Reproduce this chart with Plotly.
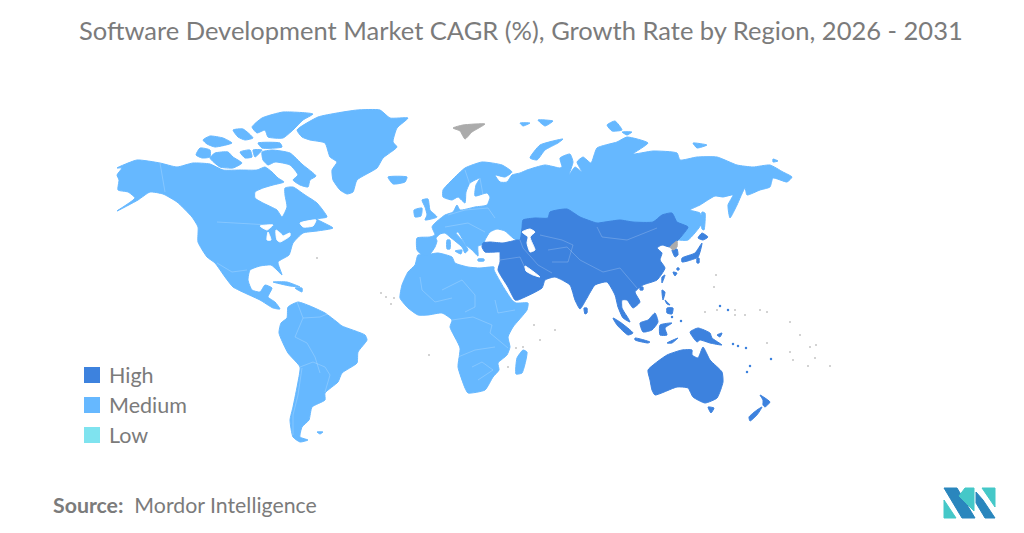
import plotly.graph_objects as go

# no topojson without network, so outlines are traced off the picture (image pixels)
title = "Software Development Market CAGR (%), Growth Rate by Region, 2026 - 2031"
levels = ["High", "Medium", "Low"]
level_colors = ["#3d82de", "#66b8ff", "#7fe3ef"]
no_data_color = "#ababab"

north_america = [(117,168),(137,160),(160,163),(177,167),(193,163),(210,164),(223,170),(240,170),(257,170),(265,167),(272,172),(278,178),
    (284,182),(273,185),(263,188),(255,192),(255,198),(263,203),(277,210),(282,217),(287,207),(285,195),(285,188),(293,187),(305,195),(317,203),(327,217),
    (317,219),(333,228),(317,231),(303,233),(293,243),(289,255),(278,262),(282,275),(277,270),(271,265),(260,266),(250,270),
    (248,280),(252,290),(260,292),(265,285),(272,288),(268,297),(275,302),(280,309),(273,308),(260,300),(247,294),(233,287),
    (225,277),(215,263),(207,257),(198,242),(198,227),(192,217),(177,202),(163,194),(150,192),(138,200),(117,211),(135,198),
    (128,192),(118,190),(119,180),(117,175),(122,168)]
greenland = [(297,130),(318,117),(337,113),(357,110),(380,110),(390,118),(408,118),(397,128),(393,142),(397,147),(383,158),
    (377,168),(357,180),(353,192),(347,194),(340,190),(333,180),(332,170),(337,162),(330,157),(325,143),(310,140),(302,137)]
arctic_islands = [
    [(196,155),(200,148),(210,150),(210,157),(202,158)],
    [(210,158),(215,153),(228,152),(233,157),(242,163),(233,168),(220,167)],
    [(262,152),(272,150),(290,153),(303,165),(316,176),(310,180),(308,187),(300,185),(293,180),(298,175),(290,165),(275,162),(268,165),(263,160)],
    [(252,127),(262,118),(283,112),(313,114),(303,120),(293,130),(283,138),(268,137),(265,130),(257,133)],
    [(203,140),(210,136),(223,138),(232,143),(215,147),(207,144)],
    [(233,130),(243,129),(253,138),(245,140),(238,137)],
    [(258,143),(280,143),(282,147),(262,148)],
    [(240,152),(250,150),(252,157),(245,158)],
    [(253,150),(262,150),(255,157)],
]
small_medium = [
    [(388,177),(407,177),(405,182),(393,184)],
    [(273,282),(287,282),(300,287),(290,286)],
    [(295,288),(302,288),(302,292)],
    [(317,432),(323,432),(320,434)],
    [(422,200),(428,199),(430,210),(437,217),(425,220),(427,215),(425,207)],
    [(414,210),(422,208),(421,216),(415,217)],
    [(447,240),(450,240),(450,249),(447,249)],
    [(455,251),(462,250),(461,254)],
    [(478,259),(484,259),(484,261),(478,261)],
    [(530,158),(540,145),(563,139),(558,143),(545,150),(537,160)],
    [(607,125),(615,121),(622,130),(612,131)],
    [(622,132),(632,132),(627,135)],
    [(693,143),(707,145),(697,148)],
    [(773,159),(778,161),(773,162)],
    [(520,123),(530,123),(523,126)],
    [(538,120),(553,121),(545,126)],
    [(702,212),(705,213),(704,230),(702,229)],
    [(523,350),(527,352),(522,373),(516,374),(517,358)],
]
south_america = [(288,307),(298,302),(310,306),(325,313),(337,322),(342,326),(365,335),(367,340),(358,352),(357,363),(342,373),
    (338,382),(325,393),(325,400),(312,407),(309,420),(302,427),(300,437),(308,440),(300,442),(293,437),(290,420),(293,407),
    (298,382),(300,367),(288,353),(279,333),(281,323),(287,318)]
eurasia_medium = [(417,250),(417,238),(430,237),(435,235),(432,227),(435,223),(445,215),(453,212),(457,205),(460,210),(475,207),
    (487,205),(490,197),(487,193),(475,196),(476,185),(480,178),(470,183),(466,192),(465,203),(458,197),(452,200),(443,197),
    (443,190),(452,180),(465,168),(482,162),(502,165),(512,172),(505,177),(495,175),(500,182),(507,182),(512,175),(520,173),
    (527,170),(545,165),(560,168),(562,167),(560,158),(570,154),(573,162),(569,175),(575,167),(582,172),(577,162),(583,157),
    (591,163),(597,148),(617,142),(627,137),(648,143),(633,154),(653,151),(677,153),(680,160),(697,157),(717,157),(737,165),
    (753,167),(770,165),(783,172),(792,177),(787,182),(773,178),(770,187),(760,190),(747,195),(745,188),(737,205),(730,218),
    (728,205),(733,195),(723,197),(715,196),(700,205),(690,210),(700,213),(702,223),(688,240),(677,240),(640,235),(560,240),
    (520,242),(513,238),(505,231),(497,229),(490,232),(485,240),(484,244),(478,246),(478,256),(472,250),(466,245),(458,232),
    (456,233),(462,240),(468,250),(465,253),(462,247),(450,237),(445,233),(440,234),(436,238),(437,241),(435,247),(430,254),
    (422,255)]
africa = [(418,255),(425,255),(438,253),(452,257),(455,263),(468,267),(480,268),(494,267),(494,270),(504,288),(512,300),(516,303),
    (528,303),(527,310),(513,327),(508,337),(510,347),(507,355),(498,363),(499,370),(493,377),(485,390),(468,393),(465,388),
    (458,367),(460,348),(450,327),(452,320),(442,313),(428,315),(418,315),(408,308),(400,298),(402,285),(408,272),(415,265)]

asia_high = [(483,243),(490,242),(503,243),(517,240),(520,240),(522,228),(523,220),(535,218),(548,218),(550,212),(567,209),(580,217),
    (597,223),(605,222),(620,220),(633,222),(653,222),(662,215),(672,213),(677,222),(688,227),(680,238),(677,241),(670,247),
    (662,245),(657,248),(662,253),(660,260),(665,268),(657,280),(643,285),(635,292),(640,302),(633,308),(627,300),(622,300),
    (622,308),(628,318),(630,322),(623,318),(618,307),(615,295),(607,282),(595,285),(587,298),(580,309),(575,300),(570,285),
    (555,277),(545,280),(542,288),(518,300),(515,300),(508,287),(498,270),(500,262),(500,253),(500,252),(485,252),(482,247)]
australia = [(648,370),(667,355),(682,350),(692,350),(692,355),(698,358),(703,347),(710,360),(722,372),(723,382),(717,398),(705,403),
    (693,397),(688,388),(677,387),(655,395),(652,390),(650,380)]
small_high = [
    [(708,407),(714,408),(711,413)],
    [(760,395),(765,398),(770,402),(765,407),(763,405),(763,400)],
    [(762,407),(757,415),(750,421),(749,417),(757,410)],
    [(640,287),(643,287),(643,290),(640,290)],
    [(584,308),(587,308),(587,313),(585,314)],
    [(672,250),(677,249),(678,255),(675,257)],
    [(698,238),(702,233),(708,237),(703,240)],
    [(702,243),(698,257),(682,262),(682,258),(695,253)],
    [(697,258),(699,258),(699,263),(697,263)],
    [(673,272),(677,273),(675,276)],
    [(677,268),(679,268),(679,270),(677,270)],
    [(662,277),(665,275),(662,283)],
    [(662,290),(665,292),(663,300)],
    [(665,300),(670,305),(667,304)],
    [(667,308),(673,308),(672,314),(667,313)],
    [(613,318),(620,322),(633,333),(628,335),(617,325)],
    [(635,338),(650,342),(648,343),(635,340)],
    [(640,323),(648,320),(655,313),(658,322),(652,330),(643,332)],
    [(660,325),(672,323),(665,328),(667,335),(660,335)],
    [(690,332),(698,328),(710,333),(712,338),(722,345),(710,343),(700,340),(697,342)],
    [(717,335),(722,333),(720,337)],
    [(667,343),(678,338),(672,343)],
]
no_data_areas = [
    [(453,128),(463,125),(485,124),(472,132),(465,139),(460,131)],
    [(670,247),(677,241),(677,247),(673,250)],
]
# lakes and inland seas sit on top of the land
water = [
    [(522,232),(530,229),(535,232),(530,237),(535,250),(530,252),(527,243),(528,237)],
    [(525,266),(540,277),(533,275),(526,271)],
    [(260,226),(273,225),(267,230)],
    [(268,232),(271,240),(267,240)],
    [(276,230),(283,236),(277,240)],
    [(277,240),(290,233),(290,236),(280,242)],
    [(300,223),(316,220),(313,226),(303,227)],
]
borders = [
    [(217,222),(260,225),(270,225)], [(217,263),(232,272),(247,270)], [(160,163),(165,192)],
    [(297,302),(303,318),(295,337),(307,343),(315,357),(320,373)], [(330,313),(320,317),(303,318)],
    [(300,367),(313,362),(325,367),(330,375),(325,392)], [(302,368),(298,395),(293,415),(293,435)],
    [(420,277),(422,290),(435,302),(452,298)], [(442,290),(462,280),(475,295),(475,307),(465,312)],
    [(452,320),(473,317),(492,325),(490,333),(508,348)], [(458,357),(475,350),(495,347)],
    [(472,367),(482,362),(493,370),(478,380)], [(495,300),(498,313),(515,310)],
    [(520,240),(523,248),(538,265),(552,273)], [(500,260),(520,257),(525,268)],
    [(548,250),(567,247),(580,260),(603,272),(620,268),(637,288)], [(597,227),(602,237),(627,240),(657,228)],
    [(540,235),(562,240),(573,245)], [(573,245),(568,262),(552,262)],
    [(448,215),(465,210),(488,208),(495,218)], [(445,227),(468,223),(485,232)], [(480,178),(483,195)], [(465,170),(470,185)],
]
high_islets = [(733,344),(738,346),(746,348),(750,366),(747,372),(771,359),(720,306),(728,310),(672,317),(681,321)]
grey_islets = [(381,293),(386,297),(391,304),(394,298),(516,348),(523,347),(508,367),(429,355),(317,258),(716,275),(714,287),
    (705,312),(717,310),(735,315),(767,312),(790,322),(800,335),(767,343),(790,352),(810,347),(815,358),(793,360),(808,366),(735,310),
    (830,366),(816,345),(745,315),(760,310),(534,325),(540,340),(555,330)]

legend_x = [92, 92, 92]
legend_y = [375, 405, 435]
logo_dark = [[(944,488),(957,488),(975,518),(962,518)], [(983,500),(995,518),(985,518),(976,503),(976,492)]]
logo_teal = [[(944,500),(956,518),(944,518)], [(959,496),(965,488),(974,488),(974,511)], [(982,488),(995,488),(995,507)]]


def joined(polygons):
    xs, ys = [], []
    for poly in polygons:
        xs += [p[0] for p in poly] + [poly[0][0], None]
        ys += [p[1] for p in poly] + [poly[0][1], None]
    return xs, ys


def add_land(polygons, color, shape="spline"):
    xs, ys = joined(polygons)
    fig.add_trace(go.Scatter(x=xs, y=ys, mode="lines", fill="toself", fillcolor=color,
                             line=dict(color=color, width=1, shape=shape, smoothing=0.5), hoverinfo="skip", showlegend=False))


fig = go.Figure()
add_land([north_america, greenland, south_america, eurasia_medium, africa] + arctic_islands + small_medium, level_colors[1])
add_land([asia_high, australia] + small_high, level_colors[0])
add_land(no_data_areas, no_data_color)
add_land(water, "#ffffff")

# country borders, faint
bx, by = [], []
for line in borders:
    bx += [p[0] for p in line] + [None]
    by += [p[1] for p in line] + [None]
fig.add_trace(go.Scatter(x=bx, y=by, mode="lines", line=dict(color="rgba(255,255,255,0.25)", width=0.8),
                         hoverinfo="skip", showlegend=False))

fig.add_trace(go.Scatter(x=[p[0] for p in high_islets], y=[p[1] for p in high_islets], mode="markers",
                         marker=dict(color=level_colors[0], size=2.5), hoverinfo="skip", showlegend=False))
fig.add_trace(go.Scatter(x=[p[0] for p in grey_islets], y=[p[1] for p in grey_islets], mode="markers",
                         marker=dict(color="#c4c4c4", size=2), hoverinfo="skip", showlegend=False))

# legend swatches
fig.add_trace(go.Scatter(x=legend_x, y=legend_y, mode="markers",
                         marker=dict(color=level_colors, size=16, symbol="square"), hoverinfo="skip", showlegend=False))
for lab, yy in zip(levels, legend_y):
    fig.add_annotation(x=107, y=yy, text=lab, showarrow=False, xanchor="left", yanchor="middle",
                       font=dict(family="Lato", size=21.5, color="#7b7b7b"))

add_land(logo_dark, "#2a86bd", shape="linear")
add_land(logo_teal, "#45c8c8", shape="linear")

fig.add_annotation(x=521, y=30, text=title, showarrow=False, xanchor="center", yanchor="middle",
                   font=dict(family="Lato", size=25.5, color="#7b7b7b"))
fig.add_annotation(x=51, y=505, text="<b>Source:</b>  Mordor Intelligence", showarrow=False, xanchor="left", yanchor="middle",
                   font=dict(family="Lato", size=21.3, color="#7b7b7b"))

fig.update_xaxes(range=[0, 1024], visible=False, fixedrange=True)
fig.update_yaxes(range=[533, 0], visible=False, fixedrange=True)
fig.update_layout(width=1024, height=533, margin=dict(l=0, r=0, t=0, b=0), paper_bgcolor="white", plot_bgcolor="white")
fig.write_html("out.html", post_script="document.body.style.margin = '0';", config={"displayModeBar": False})
